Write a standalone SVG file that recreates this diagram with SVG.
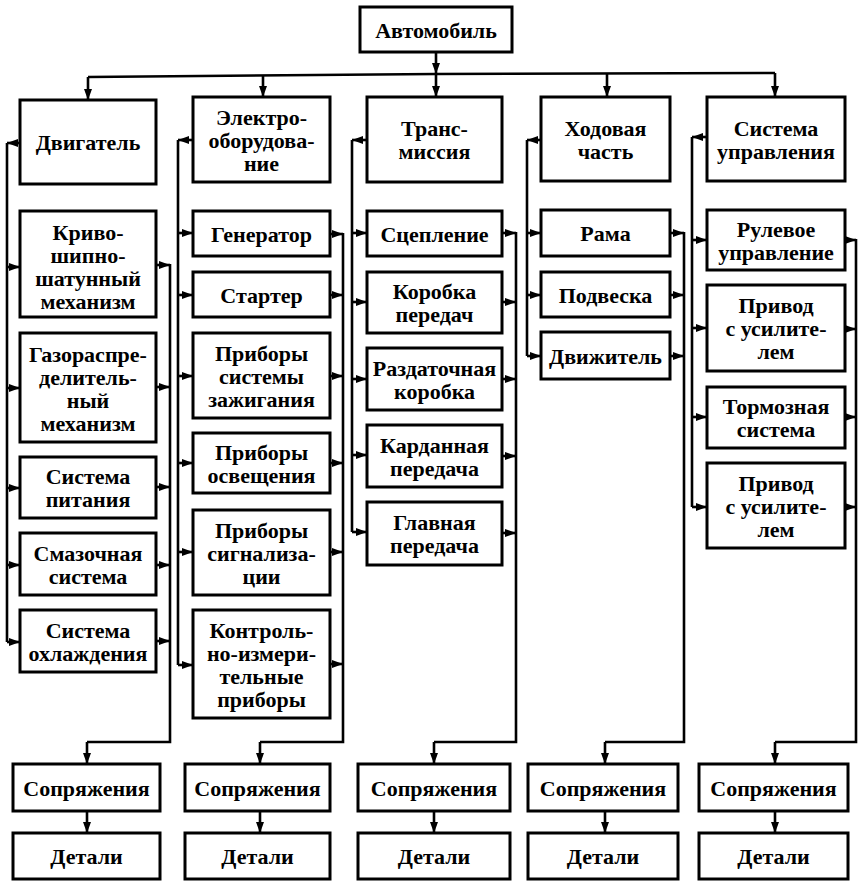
<svg xmlns="http://www.w3.org/2000/svg" width="863" height="883" viewBox="0 0 863 883">
<style>
.box{fill:#fff;stroke:#000;stroke-width:3}
.ln{fill:none;stroke:#000;stroke-width:2.6}
.ar{marker-end:url(#ah)}
</style>
<defs>
<marker id="ah" markerUnits="userSpaceOnUse" markerWidth="11" markerHeight="8" refX="11" refY="4" orient="auto">
<path d="M0,0 L11,4 L0,8 z" fill="#000"/>
</marker>
</defs>
<rect width="863" height="883" fill="#fff"/>

<g id="connectors">
<line class="ln ar" x1="436" y1="52" x2="436" y2="74"/>
<line class="ln ar" x1="436" y1="74" x2="436" y2="97"/>
<polyline class="ln" points="88,77 436,74 775,73"/>
<line class="ln ar" x1="88" y1="77" x2="88" y2="100"/>
<line class="ln ar" x1="263" y1="76" x2="263" y2="97"/>
<line class="ln ar" x1="607" y1="73" x2="607" y2="97"/>
<line class="ln ar" x1="775" y1="73" x2="775" y2="97"/>

<line class="ln ar" x1="20" y1="143" x2="7" y2="143"/>
<line class="ln" x1="7" y1="143" x2="7" y2="642"/>
<line class="ln ar" x1="7" y1="267" x2="20" y2="267"/>
<line class="ln ar" x1="7" y1="388" x2="20" y2="388"/>
<line class="ln ar" x1="7" y1="488" x2="20" y2="488"/>
<line class="ln ar" x1="7" y1="565" x2="20" y2="565"/>
<line class="ln ar" x1="7" y1="642" x2="20" y2="642"/>
<line class="ln ar" x1="156" y1="265" x2="170" y2="265"/>
<line class="ln ar" x1="156" y1="387" x2="170" y2="387"/>
<line class="ln ar" x1="156" y1="487" x2="170" y2="487"/>
<line class="ln ar" x1="156" y1="565" x2="170" y2="565"/>
<line class="ln ar" x1="156" y1="641" x2="170" y2="641"/>
<polyline class="ln" points="170,264 170,742 87,742"/>
<line class="ln ar" x1="87" y1="742" x2="87" y2="764"/>
<line class="ln ar" x1="87" y1="811" x2="87" y2="833"/>

<line class="ln ar" x1="193" y1="140" x2="178" y2="140"/>
<line class="ln" x1="178" y1="140" x2="178" y2="665"/>
<line class="ln ar" x1="178" y1="233" x2="193" y2="233"/>
<line class="ln ar" x1="178" y1="295" x2="193" y2="295"/>
<line class="ln ar" x1="178" y1="376" x2="193" y2="376"/>
<line class="ln ar" x1="178" y1="463" x2="193" y2="463"/>
<line class="ln ar" x1="178" y1="552" x2="193" y2="552"/>
<line class="ln ar" x1="178" y1="665" x2="193" y2="665"/>
<line class="ln ar" x1="330" y1="234" x2="343" y2="234"/>
<line class="ln ar" x1="330" y1="295" x2="343" y2="295"/>
<line class="ln ar" x1="330" y1="376" x2="343" y2="376"/>
<line class="ln ar" x1="330" y1="463" x2="343" y2="463"/>
<line class="ln ar" x1="330" y1="552" x2="343" y2="552"/>
<line class="ln ar" x1="330" y1="664" x2="343" y2="664"/>
<polyline class="ln" points="343,233 343,742 260,742"/>
<line class="ln ar" x1="260" y1="742" x2="260" y2="764"/>
<line class="ln ar" x1="260" y1="811" x2="260" y2="833"/>

<line class="ln ar" x1="367" y1="140" x2="352" y2="140"/>
<line class="ln" x1="352" y1="140" x2="352" y2="532"/>
<line class="ln ar" x1="352" y1="233" x2="367" y2="233"/>
<line class="ln ar" x1="352" y1="302" x2="367" y2="302"/>
<line class="ln ar" x1="352" y1="379" x2="367" y2="379"/>
<line class="ln ar" x1="352" y1="455" x2="367" y2="455"/>
<line class="ln ar" x1="352" y1="532" x2="367" y2="532"/>
<line class="ln ar" x1="502" y1="233" x2="516" y2="233"/>
<line class="ln ar" x1="502" y1="302" x2="516" y2="302"/>
<line class="ln ar" x1="502" y1="379" x2="516" y2="379"/>
<line class="ln ar" x1="502" y1="456" x2="516" y2="456"/>
<line class="ln ar" x1="502" y1="533" x2="516" y2="533"/>
<polyline class="ln" points="516,232 516,742 434,742"/>
<line class="ln ar" x1="434" y1="742" x2="434" y2="764"/>
<line class="ln ar" x1="434" y1="811" x2="434" y2="833"/>

<line class="ln ar" x1="541" y1="140" x2="527" y2="140"/>
<line class="ln" x1="527" y1="140" x2="527" y2="356"/>
<line class="ln ar" x1="527" y1="233" x2="541" y2="233"/>
<line class="ln ar" x1="527" y1="295" x2="541" y2="295"/>
<line class="ln ar" x1="527" y1="356" x2="541" y2="356"/>
<line class="ln ar" x1="670" y1="233" x2="684" y2="233"/>
<line class="ln ar" x1="670" y1="295" x2="684" y2="295"/>
<line class="ln ar" x1="670" y1="356" x2="684" y2="356"/>
<polyline class="ln" points="684,232 684,742 605,742"/>
<line class="ln ar" x1="605" y1="742" x2="605" y2="764"/>
<line class="ln ar" x1="605" y1="811" x2="605" y2="833"/>

<line class="ln ar" x1="707" y1="137" x2="692" y2="137"/>
<line class="ln" x1="692" y1="137" x2="692" y2="507"/>
<line class="ln ar" x1="692" y1="240" x2="707" y2="240"/>
<line class="ln ar" x1="692" y1="328" x2="707" y2="328"/>
<line class="ln ar" x1="692" y1="417" x2="707" y2="417"/>
<line class="ln ar" x1="692" y1="507" x2="707" y2="507"/>
<line class="ln ar" x1="845" y1="240" x2="856" y2="240"/>
<line class="ln ar" x1="845" y1="329" x2="856" y2="329"/>
<line class="ln ar" x1="845" y1="417" x2="856" y2="417"/>
<line class="ln ar" x1="845" y1="507" x2="856" y2="507"/>
<polyline class="ln" points="856,239 856,742 775,742"/>
<line class="ln ar" x1="775" y1="742" x2="775" y2="764"/>
<line class="ln ar" x1="775" y1="811" x2="775" y2="833"/>
</g>

<g id="nodes" font-family="Liberation Serif, Times New Roman, serif" font-weight="bold" font-size="22" text-anchor="middle" fill="#000">
<g id="avtomobil"><rect class="box" x="360" y="7" width="152" height="45"/><text x="436" y="37.5">Автомобиль</text></g>

<g id="dvigatel"><rect class="box" x="20" y="100" width="136" height="84"/><text x="88" y="150">Двигатель</text></g>
<g id="krivoship"><rect class="box" x="20" y="211" width="136" height="106"/><text><tspan x="88" y="240">Криво-</tspan><tspan x="88" y="263">шипно-</tspan><tspan x="88" y="286">шатунный</tspan><tspan x="88" y="309">механизм</tspan></text></g>
<g id="gazoraspred"><rect class="box" x="20" y="333" width="136" height="109"/><text><tspan x="88" y="362">Газораспре-</tspan><tspan x="88" y="385">делитель-</tspan><tspan x="88" y="408">ный</tspan><tspan x="88" y="431">механизм</tspan></text></g>
<g id="pitanie"><rect class="box" x="20" y="457" width="136" height="61"/><text><tspan x="88" y="484">Система</tspan><tspan x="88" y="507">питания</tspan></text></g>
<g id="smazka"><rect class="box" x="20" y="533" width="136" height="62"/><text><tspan x="88" y="560.5">Смазочная</tspan><tspan x="88" y="583.5">система</tspan></text></g>
<g id="ohlazhdenie"><rect class="box" x="20" y="610" width="136" height="62"/><text><tspan x="88" y="637.5">Система</tspan><tspan x="88" y="660.5">охлаждения</tspan></text></g>

<g id="elektro"><rect class="box" x="193" y="97" width="137" height="85"/><text><tspan x="261.5" y="124.5">Электро-</tspan><tspan x="261.5" y="147.5">оборудова-</tspan><tspan x="261.5" y="170.5">ние</tspan></text></g>
<g id="generator"><rect class="box" x="193" y="211" width="137" height="45"/><text x="261.5" y="241.5">Генератор</text></g>
<g id="starter"><rect class="box" x="193" y="272" width="137" height="45"/><text x="261.5" y="302.5">Стартер</text></g>
<g id="zazhiganie"><rect class="box" x="193" y="333" width="137" height="85"/><text><tspan x="261.5" y="360.5">Приборы</tspan><tspan x="261.5" y="383.5">системы</tspan><tspan x="261.5" y="406.5">зажигания</tspan></text></g>
<g id="osveshenie"><rect class="box" x="193" y="433" width="137" height="60"/><text><tspan x="261.5" y="459.5">Приборы</tspan><tspan x="261.5" y="482.5">освещения</tspan></text></g>
<g id="signalizacia"><rect class="box" x="193" y="510" width="137" height="85"/><text><tspan x="261.5" y="537.5">Приборы</tspan><tspan x="261.5" y="560.5">сигнализа-</tspan><tspan x="261.5" y="583.5">ции</tspan></text></g>
<g id="kip"><rect class="box" x="193" y="610" width="137" height="108"/><text><tspan x="261.5" y="637.5">Контроль-</tspan><tspan x="261.5" y="660.5">но-измери-</tspan><tspan x="261.5" y="683.5">тельные</tspan><tspan x="261.5" y="706.5">приборы</tspan></text></g>

<g id="transmissia"><rect class="box" x="367" y="97" width="135" height="85"/><text><tspan x="434.5" y="136">Транс-</tspan><tspan x="434.5" y="159">миссия</tspan></text></g>
<g id="sceplenie"><rect class="box" x="367" y="211" width="135" height="45"/><text x="434.5" y="241.5">Сцепление</text></g>
<g id="korobka"><rect class="box" x="367" y="272" width="135" height="61"/><text><tspan x="434.5" y="299">Коробка</tspan><tspan x="434.5" y="322">передач</tspan></text></g>
<g id="razdatochnaya"><rect class="box" x="367" y="348" width="135" height="62"/><text><tspan x="434.5" y="375.5">Раздаточная</tspan><tspan x="434.5" y="398.5">коробка</tspan></text></g>
<g id="kardannaya"><rect class="box" x="367" y="425" width="135" height="62"/><text><tspan x="434.5" y="452.5">Карданная</tspan><tspan x="434.5" y="475.5">передача</tspan></text></g>
<g id="glavnaya"><rect class="box" x="367" y="502" width="135" height="63"/><text><tspan x="434.5" y="530">Главная</tspan><tspan x="434.5" y="553">передача</tspan></text></g>

<g id="hodovaya"><rect class="box" x="541" y="97" width="129" height="84"/><text><tspan x="605.5" y="135.5">Ходовая</tspan><tspan x="605.5" y="158.5">часть</tspan></text></g>
<g id="rama"><rect class="box" x="541" y="210" width="129" height="46"/><text x="605.5" y="241">Рама</text></g>
<g id="podveska"><rect class="box" x="541" y="272" width="129" height="45"/><text x="605.5" y="302.5">Подвеска</text></g>
<g id="dvizhitel"><rect class="box" x="541" y="332" width="129" height="47"/><text x="605.5" y="363.5">Движитель</text></g>

<g id="upravlenie"><rect class="box" x="707" y="97" width="138" height="84"/><text><tspan x="776" y="135.5">Система</tspan><tspan x="776" y="158.5">управления</tspan></text></g>
<g id="rulevoe"><rect class="box" x="707" y="210" width="138" height="60"/><text><tspan x="776" y="236.5">Рулевое</tspan><tspan x="776" y="259.5">управление</tspan></text></g>
<g id="privod1"><rect class="box" x="707" y="285" width="138" height="86"/><text><tspan x="776" y="313">Привод</tspan><tspan x="776" y="336">с  усилите-</tspan><tspan x="776" y="359">лем</tspan></text></g>
<g id="tormoznaya"><rect class="box" x="707" y="387" width="138" height="61"/><text><tspan x="776" y="414">Тормозная</tspan><tspan x="776" y="437">система</tspan></text></g>
<g id="privod2"><rect class="box" x="707" y="463" width="138" height="85"/><text><tspan x="776" y="490.5">Привод</tspan><tspan x="776" y="513.5">с  усилите-</tspan><tspan x="776" y="536.5">лем</tspan></text></g>

<g id="sopr1"><rect class="box" x="13" y="764" width="147" height="47"/><text x="86.5" y="795.5">Сопряжения</text></g>
<g id="det1"><rect class="box" x="13" y="833" width="147" height="46"/><text x="86.5" y="864">Детали</text></g>
<g id="sopr2"><rect class="box" x="185" y="764" width="145" height="47"/><text x="257.5" y="795.5">Сопряжения</text></g>
<g id="det2"><rect class="box" x="185" y="833" width="145" height="46"/><text x="257.5" y="864">Детали</text></g>
<g id="sopr3"><rect class="box" x="358" y="764" width="152" height="47"/><text x="434" y="795.5">Сопряжения</text></g>
<g id="det3"><rect class="box" x="358" y="833" width="152" height="46"/><text x="434" y="864">Детали</text></g>
<g id="sopr4"><rect class="box" x="528" y="764" width="150" height="47"/><text x="603" y="795.5">Сопряжения</text></g>
<g id="det4"><rect class="box" x="528" y="833" width="150" height="46"/><text x="603" y="864">Детали</text></g>
<g id="sopr5"><rect class="box" x="699" y="764" width="149" height="47"/><text x="773.5" y="795.5">Сопряжения</text></g>
<g id="det5"><rect class="box" x="699" y="833" width="149" height="46"/><text x="773.5" y="864">Детали</text></g>
</g>
</svg>
